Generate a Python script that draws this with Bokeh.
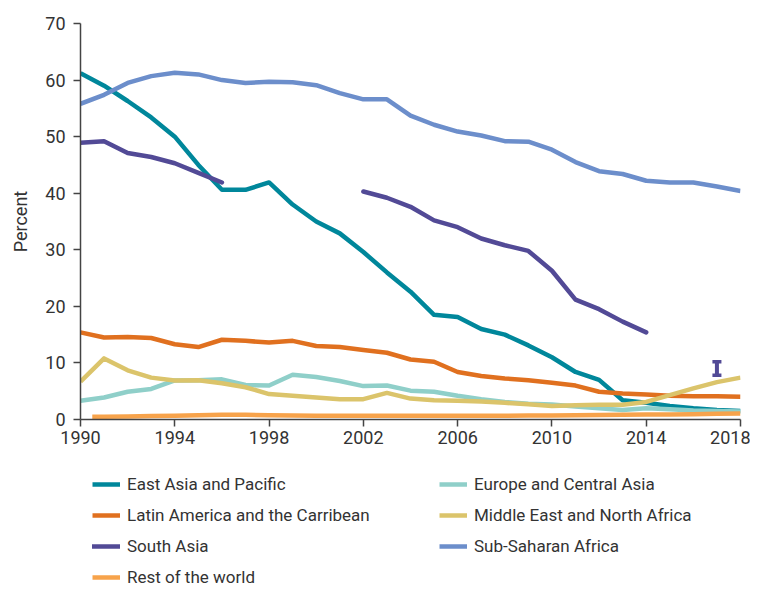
from bokeh.plotting import figure
from bokeh.layouts import column
from bokeh.models import (Range1d, FixedTicker, Legend, LegendItem, Whisker,
                          TeeHead, ColumnDataSource)
from bokeh.embed import file_html
from bokeh.resources import INLINE

NaN = float("nan")

years = list(range(1990, 2019))
x_ticks = [1990, 1994, 1998, 2002, 2006, 2010, 2014, 2018]
y_ticks = [0, 10, 20, 30, 40, 50, 60, 70]

east_asia = [61.2, 59.0, 56.3, 53.4, 50.0, 45.0, 40.6, 40.6, 41.9, 38.0,
             35.0, 32.9, 29.6, 26.0, 22.6, 18.5, 18.1, 16.0, 15.0, 13.1,
             11.0, 8.4, 7.0, 3.4, 2.95, 2.4, 2.0, 1.7, 1.5]
europe = [3.3, 3.9, 4.9, 5.4, 6.9, 6.95, 7.1, 6.1, 6.0, 7.9,
          7.5, 6.8, 5.9, 6.0, 5.1, 4.9, 4.2, 3.6, 3.1, 2.8,
          2.65, 2.3, 2.0, 1.7, 2.0, 1.8, 1.6, 1.5, 1.4]
latin_america = [15.4, 14.5, 14.6, 14.4, 13.3, 12.8, 14.1, 13.9, 13.6, 13.9,
                 13.0, 12.8, 12.3, 11.8, 10.6, 10.2, 8.4, 7.7, 7.25, 6.95,
                 6.5, 6.0, 4.9, 4.6, 4.4, 4.2, 4.1, 4.1, 4.0]
middle_east = [6.7, 10.8, 8.7, 7.4, 6.9, 6.95, 6.4, 5.7, 4.5, 4.2,
               3.9, 3.6, 3.6, 4.7, 3.7, 3.4, 3.3, 3.2, 2.95, 2.7,
               2.4, 2.5, 2.6, 2.6, 3.1, 4.3, 5.5, 6.6, 7.4]
south_asia = [48.9, 49.2, 47.1, 46.4, 45.3, 43.6, 41.9, NaN, NaN, NaN,
              NaN, NaN, 40.3, 39.2, 37.6, 35.2, 34.0, 32.0, 30.8, 29.8,
              26.3, 21.2, 19.5, 17.3, 15.4, NaN, NaN, NaN, NaN]
sub_saharan = [55.8, 57.4, 59.5, 60.7, 61.3, 61.0, 60.0, 59.5, 59.7, 59.6,
               59.1, 57.7, 56.6, 56.6, 53.7, 52.1, 50.9, 50.2, 49.2, 49.1,
               47.7, 45.5, 43.9, 43.4, 42.2, 41.9, 41.9, 41.2, 40.4]
rest_years = [1990.5] + list(range(1991, 2019))
rest_world = [0.5, 0.5, 0.55, 0.6, 0.65, 0.75, 0.85, 0.85, 0.75, 0.7,
              0.65, 0.65, 0.65, 0.65, 0.65, 0.65, 0.65, 0.65, 0.65, 0.7,
              0.7, 0.75, 0.8, 0.85, 0.9, 0.9, 0.95, 1.0, 1.05]

# South Asia 2017 estimate with range
sa_est_year = [2017]
sa_est_low = [7.8]
sa_est_high = [10.2]

names = ["East Asia and Pacific", "Europe and Central Asia",
         "Latin America and the Carribean", "Middle East and North Africa",
         "South Asia", "Sub-Saharan Africa", "Rest of the world"]
colors = ["#00879B", "#8FCFC9", "#E0701F", "#DBC46B", "#524A96", "#6C8ECB", "#F7A34B"]

FONT = "Roboto"
TXT = "#333333"

p = figure(width=750, height=453, output_backend="svg", toolbar_location=None,
           x_range=Range1d(1990, 2018), y_range=Range1d(0, 70),
           min_border_left=80, min_border_right=10, min_border_top=23,
           min_border_bottom=34)
p.outline_line_color = None
p.xgrid.visible = False
p.ygrid.visible = False

series = [(years, east_asia), (years, europe), (years, latin_america),
          (years, middle_east), (years, south_asia), (years, sub_saharan),
          (rest_years, rest_world)]
for (xs, ys), name, c in zip(series, names, colors):
    cap = "round" if name == "South Asia" else "butt"
    p.line(xs, ys, line_color=c, line_width=4.5, line_join="round", line_cap=cap)

wsrc = ColumnDataSource(dict(base=sa_est_year, lower=sa_est_low, upper=sa_est_high))
w = Whisker(source=wsrc, base="base", lower="lower", upper="upper", dimension="height",
            line_color=colors[4], line_width=4,
            upper_head=TeeHead(size=9, line_color=colors[4], line_width=3.5),
            lower_head=TeeHead(size=9, line_color=colors[4], line_width=3.5))
p.add_layout(w)

for ax in (p.xaxis[0], p.yaxis[0]):
    ax.axis_line_color = "#444444"
    ax.axis_line_width = 1.5
    ax.major_tick_line_color = "#444444"
    ax.major_tick_line_width = 1.5
    ax.major_tick_out = 7
    ax.major_tick_in = 0
    ax.minor_tick_out = 0
    ax.minor_tick_in = 0
    ax.major_label_text_font = FONT
    ax.major_label_text_font_size = "18px"
    ax.major_label_text_color = TXT

p.xaxis.ticker = FixedTicker(ticks=x_ticks)
p.yaxis.ticker = FixedTicker(ticks=y_ticks)
p.xaxis.major_label_standoff = 4
p.yaxis.major_label_standoff = 8
p.yaxis.axis_label = "Percent"
p.yaxis.axis_label_text_font = FONT
p.yaxis.axis_label_text_font_size = "18px"
p.yaxis.axis_label_text_font_style = "normal"
p.yaxis.axis_label_text_color = TXT
p.yaxis.axis_label_standoff = 11

# Legend panel below the chart (swatch renderers carry a placeholder only)
lf = figure(width=750, height=134, output_backend="svg", toolbar_location=None,
            x_range=Range1d(0, 1), y_range=Range1d(0, 1),
            x_axis_type=None, y_axis_type=None, min_border=0)
lf.outline_line_color = None
lf.xgrid.visible = False
lf.ygrid.visible = False
items = []
for name, c in zip(names, colors):
    cap = "round" if name == "South Asia" else "butt"
    r = lf.line(x=[NaN], y=[NaN], line_color=c, line_width=4.5, line_cap=cap)
    items.append(LegendItem(label=name, renderers=[r]))

legend = Legend(items=items, location=(12, 0), orientation="horizontal", ncols=2,
                padding=0, margin=0, spacing=11, glyph_width=28, glyph_height=20,
                label_standoff=7, label_width=301, label_height=20,
                label_text_font=FONT, label_text_font_size="17px",
                label_text_color=TXT, border_line_color=None,
                background_fill_alpha=0)
lf.add_layout(legend)

layout = column(p, lf, spacing=0)
open("out.html", "w").write(file_html(layout, INLINE))
